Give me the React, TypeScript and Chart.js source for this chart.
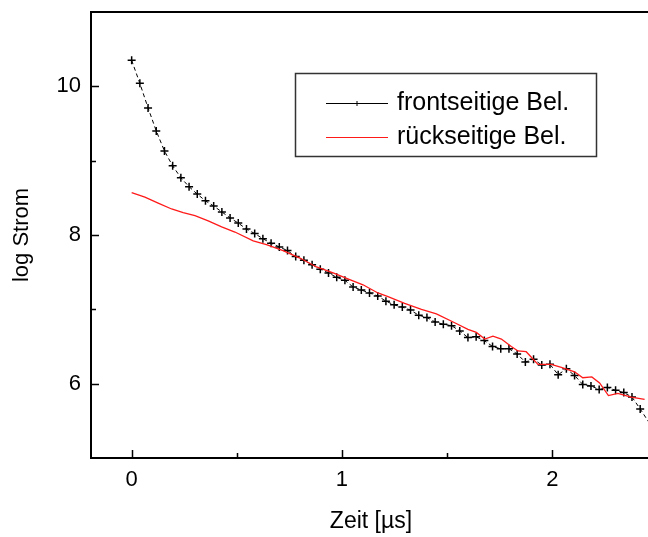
import React, { useEffect, useRef } from "react";
import { Chart, registerables } from "chart.js";

Chart.register(...registerables);

// ---- data ----
const seriesNames = ["frontseitige Bel.", "rückseitige Bel."];
const xTitle = "Zeit [µs]";
const yTitle = "log Strom";

const xTicks = [0, 1, 2];
const xMinorTicks = [0.5, 1.5];
const yTicks = [6, 8, 10];
const yMinorTicks = [7, 9];

const frontX = [
  0, 0.039, 0.078, 0.117, 0.156, 0.195, 0.234, 0.273, 0.312, 0.351,
  0.39, 0.429, 0.468, 0.507, 0.546, 0.585, 0.624, 0.663, 0.702, 0.741,
  0.78, 0.819, 0.858, 0.897, 0.936, 0.975, 1.014, 1.053, 1.092, 1.131,
  1.17, 1.209, 1.248, 1.287, 1.326, 1.365, 1.404, 1.443, 1.482, 1.521,
  1.56, 1.599, 1.638, 1.677, 1.716, 1.755, 1.794, 1.833, 1.872, 1.911,
  1.95, 1.989, 2.028, 2.067, 2.106, 2.145, 2.184, 2.223, 2.262, 2.301,
  2.34, 2.379, 2.418, 2.457,
];
const frontY = [
  10.35, 10.04, 9.71, 9.4, 9.13, 8.93, 8.77, 8.65, 8.55, 8.46,
  8.39, 8.31, 8.23, 8.16, 8.08, 8.02, 7.95, 7.89, 7.84, 7.79,
  7.71, 7.66, 7.6, 7.54, 7.49, 7.43, 7.39, 7.3, 7.26, 7.22,
  7.18, 7.11, 7.06, 7.03, 6.99, 6.92, 6.89, 6.83, 6.8, 6.78,
  6.71, 6.62, 6.63, 6.58, 6.5, 6.47, 6.47, 6.4, 6.29, 6.33,
  6.25, 6.26, 6.12, 6.2, 6.11, 5.99, 5.97, 5.92, 5.95, 5.91,
  5.88, 5.82, 5.66, 5.49,
];

const backX = [
  0, 0.063, 0.126, 0.19, 0.245, 0.301, 0.364, 0.428, 0.491, 0.578,
  0.641, 0.72, 0.8, 0.879, 0.958, 1.037, 1.1, 1.171, 1.219, 1.298,
  1.378, 1.449, 1.536, 1.599, 1.639, 1.679, 1.718, 1.758, 1.805, 1.837,
  1.876, 1.932, 1.995, 2.043, 2.106, 2.145, 2.188, 2.225, 2.267, 2.312,
  2.375, 2.439, 2.46,
];
const backY = [
  8.57, 8.51, 8.43, 8.35, 8.3, 8.26, 8.19, 8.11, 8.04, 7.92,
  7.87, 7.79, 7.69, 7.57, 7.49, 7.4, 7.33, 7.22, 7.17, 7.08,
  7.0, 6.94, 6.82, 6.73, 6.69, 6.6, 6.64, 6.6, 6.5, 6.44,
  6.43, 6.26, 6.26, 6.22, 6.16, 6.08, 6.09, 6.01, 5.84, 5.87,
  5.82, 5.79, 5.77,
];

const FONT = '"Liberation Sans", Arial, Helvetica, sans-serif';

function drawPlus(ctx: CanvasRenderingContext2D, x: number, y: number, r: number) {
  ctx.beginPath();
  ctx.moveTo(x - r, y);
  ctx.lineTo(x + r, y);
  ctx.moveTo(x, y - r);
  ctx.lineTo(x, y + r);
  ctx.stroke();
}

function zeroPadding(scale: any) {
  scale.paddingTop = 0;
  scale.paddingBottom = 0;
  scale.paddingLeft = 0;
  scale.paddingRight = 0;
}

const decorPlugin = {
  id: "decor",
  afterDraw(chart: any) {
    const ctx: CanvasRenderingContext2D = chart.ctx;
    const { left, top, bottom } = chart.chartArea;
    const farRight = chart.width;
    const xs = chart.scales.x;
    const ys = chart.scales.y;
    ctx.save();
    // frame (left, bottom, top) - plot is cropped on the right
    ctx.strokeStyle = "#000";
    ctx.lineWidth = 2;
    ctx.beginPath();
    ctx.moveTo(left, top);
    ctx.lineTo(farRight, top);
    ctx.moveTo(left, top - 1);
    ctx.lineTo(left, bottom + 1);
    ctx.moveTo(left - 1, bottom);
    ctx.lineTo(farRight, bottom);
    ctx.stroke();
    // inward ticks
    ctx.lineWidth = 1.5;
    ctx.beginPath();
    xTicks.forEach((v) => {
      const px = Math.round(xs.getPixelForValue(v)) + 0.5;
      ctx.moveTo(px, bottom);
      ctx.lineTo(px, bottom - 8);
    });
    xMinorTicks.forEach((v) => {
      const px = Math.round(xs.getPixelForValue(v)) + 0.5;
      ctx.moveTo(px, bottom);
      ctx.lineTo(px, bottom - 5);
    });
    yTicks.forEach((v) => {
      const py = Math.round(ys.getPixelForValue(v)) + 0.5;
      ctx.moveTo(left, py);
      ctx.lineTo(left + 8, py);
    });
    yMinorTicks.forEach((v) => {
      const py = Math.round(ys.getPixelForValue(v)) + 0.5;
      ctx.moveTo(left, py);
      ctx.lineTo(left + 5, py);
    });
    ctx.stroke();

    // axis titles
    ctx.fillStyle = "#000";
    ctx.font = `23px ${FONT}`;
    ctx.textAlign = "center";
    ctx.textBaseline = "middle";
    ctx.fillText(xTitle, 371, 522);
    ctx.font = `22px ${FONT}`;
    ctx.save();
    ctx.translate(22, (top + bottom) / 2);
    ctx.rotate(-Math.PI / 2);
    ctx.fillText(yTitle, 0, 0);
    ctx.restore();

    // legend
    ctx.strokeStyle = "#333";
    ctx.lineWidth = 1.5;
    ctx.strokeRect(295.5, 73.5, 301, 83);
    ctx.strokeStyle = "#000";
    ctx.lineWidth = 1;
    ctx.beginPath();
    ctx.moveTo(326, 103.5);
    ctx.lineTo(388, 103.5);
    ctx.stroke();
    drawPlus(ctx, 357, 103.5, 2.5);
    ctx.strokeStyle = "#ff1a1a";
    ctx.lineWidth = 1.2;
    ctx.beginPath();
    ctx.moveTo(326, 137.5);
    ctx.lineTo(388, 137.5);
    ctx.stroke();
    ctx.fillStyle = "#000";
    ctx.font = `25px ${FONT}`;
    ctx.textAlign = "left";
    ctx.textBaseline = "middle";
    ctx.fillText(seriesNames[0], 397, 103);
    ctx.fillText(seriesNames[1], 397, 137);
    ctx.restore();
  },
};

export default function App() {
  const ref = useRef<HTMLCanvasElement | null>(null);
  useEffect(() => {
    if (!ref.current) return;
    const clipArea = { left: 0, top: 0, right: 6, bottom: 0 };
    const chart = new Chart(ref.current, {
      type: "line",
      data: {
        datasets: [
          {
            label: seriesNames[1],
            data: backX.map((x, i) => ({ x, y: backY[i] })),
            borderColor: "#ff1a1a",
            borderWidth: 1.3,
            pointRadius: 0,
            tension: 0,
            fill: false,
            clip: clipArea,
          },
          {
            label: seriesNames[0],
            data: frontX.map((x, i) => ({ x, y: frontY[i] })),
            borderColor: "#000",
            borderWidth: 1,
            borderDash: [4, 3],
            pointStyle: "cross",
            pointRadius: 4,
            pointBorderWidth: 1.5,
            pointBorderColor: "#000",
            pointBackgroundColor: "#000",
            tension: 0,
            fill: false,
            clip: clipArea,
          },
        ],
      },
      options: {
        responsive: false,
        animation: false,
        layout: { padding: { top: 12, right: 0, left: 0, bottom: 0 } },
        plugins: {
          legend: { display: false },
          tooltip: { enabled: false },
        },
        scales: {
          x: {
            type: "linear",
            min: -0.1933,
            max: 2.429,
            grid: { display: false, drawTicks: false },
            border: { display: false },
            ticks: {
              padding: 9,
              color: "#000",
              font: { family: FONT, size: 22 },
            },
            afterBuildTicks: (scale: any) => {
              scale.ticks = xTicks.map((v) => ({ value: v }));
            },
            afterFit: (scale: any) => {
              scale.height = 79;
              zeroPadding(scale);
            },
          },
          y: {
            type: "linear",
            min: 5,
            max: 11,
            grid: { display: false, drawTicks: false },
            border: { display: false },
            ticks: {
              padding: 10,
              color: "#000",
              font: { family: FONT, size: 22 },
            },
            afterBuildTicks: (scale: any) => {
              scale.ticks = yTicks.map((v) => ({ value: v }));
            },
            afterFit: (scale: any) => {
              scale.width = 91;
              zeroPadding(scale);
            },
          },
        },
      },
      plugins: [decorPlugin],
    });
    return () => chart.destroy();
  }, []);
  return (
    <div style={{ position: "absolute", left: 0, top: 0, width: 648, height: 537, background: "#fff" }}>
      <canvas ref={ref} width={648} height={537} style={{ display: "block" }} />
    </div>
  );
}
